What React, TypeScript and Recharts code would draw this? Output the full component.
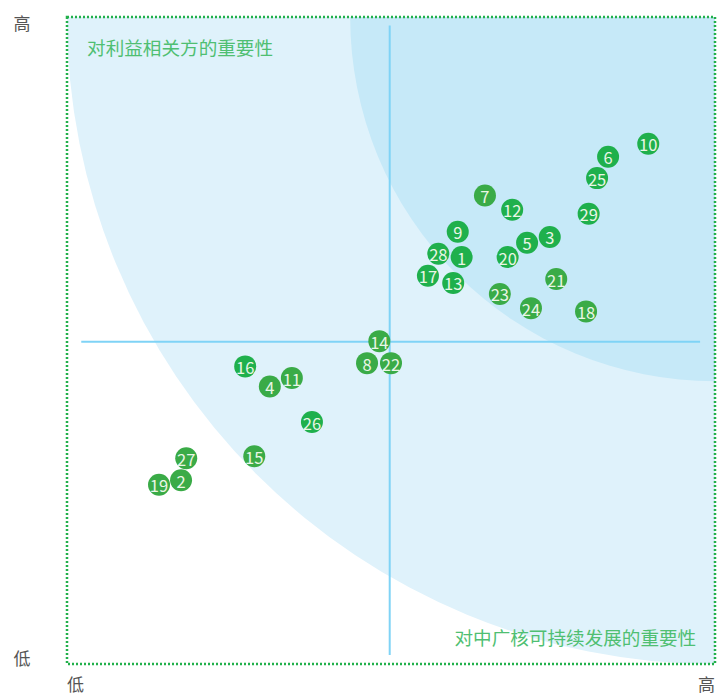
import {
  ScatterChart,
  Scatter,
  XAxis,
  YAxis,
  ReferenceArea,
  ReferenceLine,
  ReferenceDot,
} from 'recharts';

// issue id, importance to CGN (x), importance to stakeholders (y)
const groupA = [
  { id: 10, x: 89.7, y: 80.4 },
  { id: 6, x: 83.5, y: 78.4 },
  { id: 25, x: 81.8, y: 75.1 },
  { id: 12, x: 68.7, y: 70.2 },
  { id: 29, x: 80.5, y: 69.6 },
  { id: 9, x: 60.3, y: 66.8 },
  { id: 3, x: 74.5, y: 66.0 },
  { id: 5, x: 71.0, y: 65.1 },
  { id: 28, x: 57.3, y: 63.4 },
  { id: 1, x: 60.9, y: 62.9 },
  { id: 20, x: 68.0, y: 62.9 },
  { id: 17, x: 55.7, y: 60.0 },
  { id: 13, x: 59.6, y: 58.9 },
  { id: 16, x: 27.5, y: 46.0 },
  { id: 26, x: 37.8, y: 37.4 },
];

const groupB = [
  { id: 7, x: 64.5, y: 72.4 },
  { id: 21, x: 75.5, y: 59.5 },
  { id: 23, x: 66.8, y: 57.2 },
  { id: 24, x: 71.6, y: 55.0 },
  { id: 18, x: 80.1, y: 54.5 },
  { id: 14, x: 48.2, y: 49.9 },
  { id: 8, x: 46.3, y: 46.5 },
  { id: 22, x: 50.0, y: 46.5 },
  { id: 11, x: 34.7, y: 44.2 },
  { id: 4, x: 31.3, y: 42.9 },
  { id: 15, x: 28.9, y: 32.1 },
  { id: 27, x: 18.4, y: 31.8 },
  { id: 2, x: 17.6, y: 28.4 },
  { id: 19, x: 14.2, y: 27.7 },
];

const axisLow = '低';
const axisHigh = '高';
const topLabel = '对利益相关方的重要性';
const bottomLabel = '对中广核可持续发展的重要性';

const outerRadius = 100;
const innerRadius = 56.3;

const FONT = '"Noto Sans CJK SC", "Noto Sans", sans-serif';
const GREEN_A = '#1fb04c';
const GREEN_B = '#3aab47';

function QuarterCircle(props: any) {
  const { x, y, width, height, fill } = props;
  const cx = x + width;
  const cy = y;
  return (
    <path
      d={`M${cx},${cy} L${x},${cy} A${width},${height} 0 0 0 ${cx},${y + height} Z`}
      fill={fill}
    />
  );
}

function makeBubble(color: string) {
  return (props: any) => {
    const { cx, cy, payload } = props;
    return (
      <g>
        <circle cx={cx} cy={cy} r={11} fill={color} />
        <text
          x={cx}
          y={cy + 0.5}
          textAnchor="middle"
          dominantBaseline="central"
          fontSize={16.5}
          fontFamily={FONT}
          fill="#eaf6e6"
        >
          {payload.id}
        </text>
      </g>
    );
  };
}

function YTick(props: any) {
  const { y, payload } = props;
  const isHigh = payload.value === 100;
  return (
    <text
      x={22}
      y={isHigh ? y + 5 : y - 7}
      textAnchor="middle"
      dominantBaseline="central"
      fontSize={17}
      fontFamily={FONT}
      fill="#555"
    >
      {isHigh ? axisHigh : axisLow}
    </text>
  );
}

function XTick(props: any) {
  const { x, payload } = props;
  const isHigh = payload.value === 100;
  return (
    <text
      x={isHigh ? x - 17 : x}
      y={683}
      textAnchor="start"
      dominantBaseline="central"
      fontSize={17}
      fontFamily={FONT}
      fill="#555"
    >
      {isHigh ? axisHigh : axisLow}
    </text>
  );
}

function CornerText(anchor: 'start' | 'end', text: string) {
  return (props: any) => (
    <text
      x={props.cx}
      y={props.cy}
      textAnchor={anchor}
      dominantBaseline="central"
      fontSize={18.6}
      fontFamily={FONT}
      fill="#4fbf72"
    >
      {text}
    </text>
  );
}

export default function App() {
  return (
    <div style={{ position: 'absolute', left: 0, top: 0 }}>
      <ScatterChart
        width={717}
        height={695}
        margin={{ top: 17, right: 2, bottom: 0, left: 0 }}
      >
        <XAxis
          type="number"
          dataKey="x"
          domain={[0, 100]}
          ticks={[0, 100]}
          axisLine={false}
          tickLine={false}
          height={31}
          tick={<XTick />}
          interval={0}
        />
        <YAxis
          type="number"
          dataKey="y"
          domain={[0, 100]}
          ticks={[0, 100]}
          axisLine={false}
          tickLine={false}
          width={67}
          tick={<YTick />}
          interval={0}
        />
        <ReferenceArea
          x1={100 - outerRadius}
          x2={100}
          y1={100 - outerRadius}
          y2={100}
          fill="#dff2fb"
          shape={<QuarterCircle />}
        />
        <ReferenceArea
          x1={100 - innerRadius}
          x2={100}
          y1={100 - innerRadius}
          y2={100}
          fill="#c6e9f8"
          shape={<QuarterCircle />}
        />
        <ReferenceLine
          segment={[
            { x: 49.8, y: 1.4 },
            { x: 49.8, y: 98.7 },
          ]}
          stroke="#7fd3f6"
          strokeWidth={2}
        />
        <ReferenceLine
          segment={[
            { x: 2.2, y: 49.8 },
            { x: 97.7, y: 49.8 },
          ]}
          stroke="#7fd3f6"
          strokeWidth={2}
        />
        <ReferenceArea
          x1={0}
          x2={100}
          y1={0}
          y2={100}
          fill="none"
          stroke="#22b04b"
          strokeWidth={2.5}
          strokeDasharray="2 2"
          fillOpacity={0}
        />
        <ReferenceDot x={3.1} y={95.4} r={0} shape={CornerText('start', topLabel)} />
        <ReferenceDot x={97.1} y={4.2} r={0} shape={CornerText('end', bottomLabel)} />
        <Scatter data={groupB} shape={makeBubble(GREEN_B)} isAnimationActive={false} />
        <Scatter data={groupA} shape={makeBubble(GREEN_A)} isAnimationActive={false} />
      </ScatterChart>
    </div>
  );
}
